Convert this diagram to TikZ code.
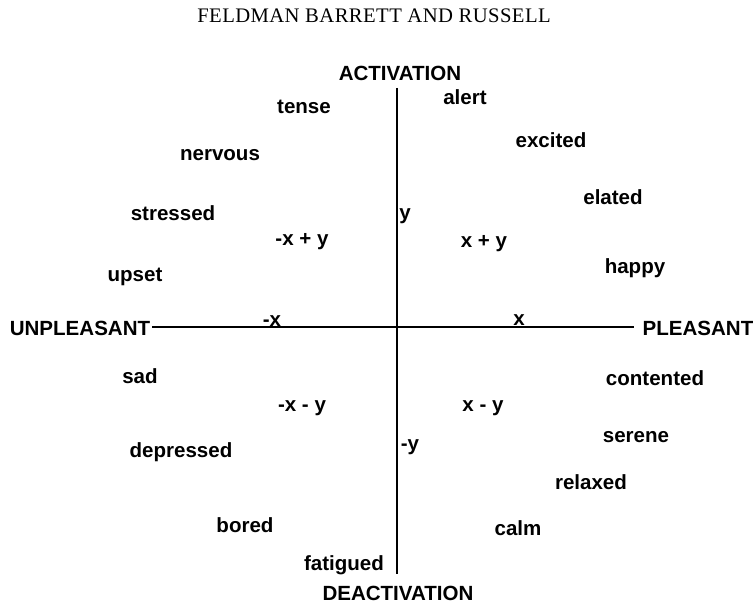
\documentclass[tikz,border=0pt]{standalone}
\usepackage{fontspec}
\setmainfont{Liberation Sans}
\newfontfamily\titlefont[LetterSpace=2]{Liberation Serif}
\begin{document}
\begin{tikzpicture}[x=0.75pt,y=-0.75pt,
  lbl/.style={font=\fontsize{15.4}{17}\selectfont\bfseries, inner sep=0pt, anchor=center},
  axis/.style={line width=1.6pt, black}]
\useasboundingbox (0,0) rectangle (753,605);
\node[inner sep=0pt, font=\titlefont\fontsize{15.5}{17}\selectfont] (title) at (374,16) {FELDMAN BARRETT AND RUSSELL};
\node[lbl] (act) at (400,73) {ACTIVATION};
\node[lbl] (deact) at (398,593) {DEACTIVATION};
\node[lbl] (unpl) at (80,328) {UNPLEASANT};
\node[lbl] (pl) at (698,328) {PLEASANT};
\coordinate (vtop) at (397,88);
\coordinate (vbot) at (397,574);
\draw[axis] (vtop) -- (vbot);
\draw[axis] ([xshift=1.5pt]unpl.east |- 0,327) -- ([xshift=-6pt]pl.west |- 0,327);
\node[lbl] (tense) at (304,107) {tense};
\node[lbl] (alert) at (465,97) {alert};
\node[lbl] (nervous) at (220,155) {nervous};
\node[lbl] (excited) at (551,140) {excited};
\node[lbl] (stressed) at (173,213) {stressed};
\node[lbl] (elated) at (613,197) {elated};
\node[lbl] (y) at (405,216) {y};
\node[lbl] (mxpy) at (302,242) {-x + y};
\node[lbl] (xpy) at (484,244) {x + y};
\node[lbl] (happy) at (635,268) {happy};
\node[lbl] (upset) at (135,277) {upset};
\node[lbl] (mx) at (272,321) {-x};
\node[lbl] (x) at (519,320) {x};
\node[lbl] (sad) at (140,376) {sad};
\node[lbl] (contented) at (655,378) {contented};
\node[lbl] (mxmy) at (302,408) {-x - y};
\node[lbl] (xmy) at (483,408) {x - y};
\node[lbl] (serene) at (636,437) {serene};
\node[lbl] (my) at (410,447) {-y};
\node[lbl] (depressed) at (181,452) {depressed};
\node[lbl] (relaxed) at (591,482) {relaxed};
\node[lbl] (bored) at (245,525) {bored};
\node[lbl] (calm) at (518,528) {calm};
\node[lbl] (fatigued) at (344,565) {fatigued};
\end{tikzpicture}
\end{document}
